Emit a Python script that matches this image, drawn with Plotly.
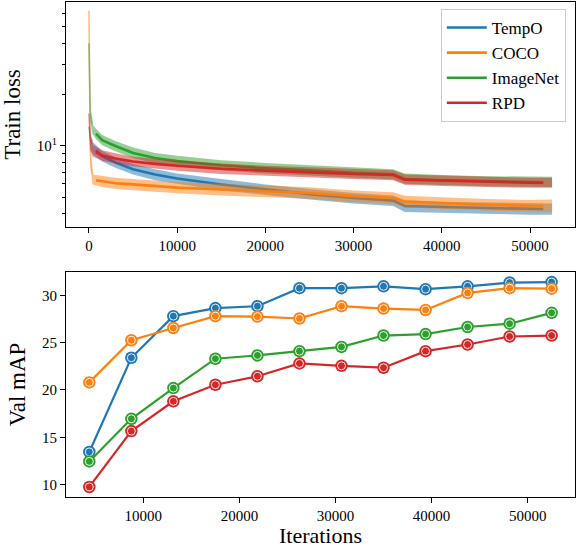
import plotly.graph_objects as go
from plotly.subplots import make_subplots


# ==========================================================
# Data
# ==========================================================

NAMES = ["TempO", "COCO", "ImageNet", "RPD"]
COLORS = ["#1f77b4", "#ff7f0e", "#2ca02c", "#d62728"]

# raw train loss, drawn as a translucent band (low / high envelope)
RAW_ITERS = [0, 150, 400, 800, 1500, 3000, 5000, 7500, 10000, 15000, 20000,
             25000, 30000, 34500, 35800, 40000, 45000, 50000, 52500]

TEMPO_LOW = [12.0, 9.6, 9.0, 8.7, 8.1, 7.45, 6.8, 6.3, 6.0, 5.5, 5.15,
             4.85, 4.6, 4.45, 4.1, 4.05, 4.0, 3.95, 3.95]
TEMPO_HIGH = [13.0, 11.4, 10.6, 10.1, 9.35, 8.6, 7.85, 7.3, 6.9, 6.4, 5.95,
              5.6, 5.3, 5.12, 4.8, 4.7, 4.65, 4.6, 4.6]

COCO_LOW = [62.0, 7.5, 5.95, 5.85, 5.75, 5.6, 5.5, 5.38, 5.28, 5.12, 5.0,
            4.9, 4.7, 4.58, 4.35, 4.27, 4.18, 4.12, 4.12]
COCO_HIGH = [62.0, 9.0, 6.8, 6.75, 6.65, 6.5, 6.4, 6.25, 6.15, 6.0, 5.85,
             5.72, 5.48, 5.35, 5.1, 4.98, 4.88, 4.82, 4.85]

IMAGENET_LOW = [40.0, 14.0, 11.8, 11.0, 10.1, 9.3, 8.5, 7.95, 7.6, 7.2, 6.9,
                6.72, 6.5, 6.38, 6.0, 5.9, 5.8, 5.75, 5.75]
IMAGENET_HIGH = [40.0, 16.0, 13.4, 12.6, 11.6, 10.7, 9.8, 9.1, 8.75, 8.25, 7.95,
                 7.72, 7.45, 7.3, 6.9, 6.75, 6.65, 6.6, 6.6]

RPD_LOW = [15.5, 9.4, 8.7, 8.5, 8.2, 7.9, 7.6, 7.35, 7.15, 6.85, 6.68,
           6.55, 6.4, 6.3, 5.92, 5.83, 5.74, 5.68, 5.68]
RPD_HIGH = [15.5, 11.0, 10.2, 9.9, 9.45, 9.05, 8.65, 8.4, 8.2, 7.9, 7.65,
            7.5, 7.32, 7.2, 6.8, 6.7, 6.58, 6.5, 6.5]

# smoothed train loss
SMOOTH_ITERS = [800, 1500, 3000, 5000, 7500, 10000, 15000, 20000, 25000,
                30000, 34500, 35800, 40000, 45000, 50000, 51500]

TEMPO_SMOOTH = [9.4, 8.7, 8.0, 7.3, 6.8, 6.45, 5.95, 5.55, 5.22,
                4.95, 4.78, 4.45, 4.38, 4.33, 4.28, 4.27]
COCO_SMOOTH = [6.3, 6.2, 6.05, 5.95, 5.8, 5.7, 5.55, 5.42, 5.3,
               5.08, 4.95, 4.72, 4.62, 4.52, 4.46, 4.45]
IMAGENET_SMOOTH = [11.8, 10.8, 10.0, 9.1, 8.5, 8.15, 7.7, 7.4, 7.2,
                   6.95, 6.82, 6.4, 6.3, 6.2, 6.15, 6.13]
RPD_SMOOTH = [9.2, 8.8, 8.45, 8.1, 7.85, 7.65, 7.35, 7.15, 7.0,
              6.85, 6.75, 6.35, 6.25, 6.15, 6.08, 6.07]

# validation mAP
VAL_ITERS = [4375, 8750, 13125, 17500, 21875, 26250, 30625, 35000,
             39375, 43750, 48125, 52500]

TEMPO_MAP = [13.45, 23.4, 27.8, 28.65, 28.85, 30.75, 30.75, 30.95,
             30.65, 30.95, 31.35, 31.4]
COCO_MAP = [20.8, 25.25, 26.55, 27.8, 27.75, 27.55, 28.85, 28.6,
            28.45, 30.25, 30.75, 30.7]
IMAGENET_MAP = [12.45, 16.95, 20.2, 23.3, 23.65, 24.1, 24.55, 25.75,
                25.9, 26.65, 27.0, 28.15]
RPD_MAP = [9.75, 15.65, 18.8, 20.55, 21.45, 22.8, 22.55, 22.35,
           24.1, 24.8, 25.65, 25.75]

RAW = [(TEMPO_LOW, TEMPO_HIGH), (COCO_LOW, COCO_HIGH),
       (IMAGENET_LOW, IMAGENET_HIGH), (RPD_LOW, RPD_HIGH)]
SMOOTH = [TEMPO_SMOOTH, COCO_SMOOTH, IMAGENET_SMOOTH, RPD_SMOOTH]
VAL = [TEMPO_MAP, COCO_MAP, IMAGENET_MAP, RPD_MAP]

FONT = "Liberation Serif"


def rgba(hex_color, alpha):
    h = hex_color.lstrip("#")
    r, g, b = int(h[0:2], 16), int(h[2:4], 16), int(h[4:6], 16)
    return f"rgba({r},{g},{b},{alpha})"


fig = make_subplots(rows=2, cols=1)

# ==========================================================
# Train loss
# ==========================================================

for name, color, (low, high), smooth in zip(NAMES, COLORS, RAW, SMOOTH):

    # noisy raw curve as a band
    fig.add_trace(
        go.Scatter(
            x=RAW_ITERS + RAW_ITERS[::-1],
            y=high + low[::-1],
            fill="toself",
            fillcolor=rgba(color, 0.5),
            line=dict(width=0),
            mode="lines",
            showlegend=False,
            hoverinfo="skip",
        ),
        row=1, col=1,
    )

    # first-iterations spike of the raw curve
    fig.add_trace(
        go.Scatter(
            x=RAW_ITERS[:3],
            y=high[:3],
            mode="lines",
            line=dict(color=rgba(color, 0.5), width=1.6),
            showlegend=False,
            hoverinfo="skip",
        ),
        row=1, col=1,
    )

    fig.add_trace(
        go.Scatter(
            x=SMOOTH_ITERS,
            y=smooth,
            mode="lines",
            name=name,
            line=dict(color=color, width=2.6),
        ),
        row=1, col=1,
    )

# ==========================================================
# Val mAP
# ==========================================================

for name, color, vals in zip(NAMES, COLORS, VAL):

    fig.add_trace(
        go.Scatter(
            x=VAL_ITERS,
            y=vals,
            mode="lines+markers",
            line=dict(color=color, width=2.2),
            marker=dict(size=12.5, color=color, line=dict(width=0)),
            showlegend=False,
        ),
        row=2, col=1,
    )

    fig.add_trace(
        go.Scatter(
            x=VAL_ITERS,
            y=vals,
            mode="markers",
            marker=dict(size=8, color=color,
                        line=dict(width=0.9, color="white")),
            showlegend=False,
        ),
        row=2, col=1,
    )

# ==========================================================
# Layout
# ==========================================================

axis_style = dict(
    showline=True,
    linecolor="black",
    linewidth=1,
    mirror=True,
    ticks="outside",
    ticklen=5,
    tickwidth=1,
    tickcolor="black",
    showgrid=False,
    zeroline=False,
    automargin=False,
    tickformat="d",
    tickfont=dict(family=FONT, size=15, color="black"),
)

fig.update_xaxes(**axis_style)
fig.update_yaxes(**axis_style)

fig.update_layout(

    width=576,
    height=548,

    paper_bgcolor="white",
    plot_bgcolor="white",

    font=dict(family=FONT, color="black"),

    margin=dict(l=66, r=1, t=2, b=51),

    xaxis=dict(
        domain=[0, 1],
        range=[-2600, 55100],
        tickvals=[0, 10000, 20000, 30000, 40000, 50000],
    ),

    yaxis=dict(
        domain=[0.5455, 1],
        type="log",
        range=[0.525, 1.844],
        tickvals=[10],
        ticktext=["10<sup>1</sup>"],
        minor=dict(
            tickvals=[4, 5, 6, 7, 8, 9, 20, 30, 40, 50, 60],
            ticks="outside",
            ticklen=3,
            tickwidth=0.8,
            tickcolor="black",
            showgrid=False,
        ),
        title=dict(text="Train loss", font=dict(family=FONT, size=23),
                   standoff=9),
    ),

    xaxis2=dict(
        domain=[0, 1],
        range=[1950, 54930],
        tickvals=[10000, 20000, 30000, 40000, 50000],
        title=dict(text="Iterations", font=dict(family=FONT, size=22),
                   standoff=10),
    ),

    yaxis2=dict(
        domain=[0, 0.4545],
        range=[8.69, 32.46],
        tickvals=[10, 15, 20, 25, 30],
        title=dict(text="Val mAP", font=dict(family=FONT, size=23),
                   standoff=9),
    ),

    legend=dict(
        x=0.982,
        y=0.986,
        xanchor="right",
        yanchor="top",
        bgcolor="rgba(255,255,255,0.8)",
        bordercolor="#cccccc",
        borderwidth=1,
        font=dict(family=FONT, size=17, color="black"),
        tracegroupgap=0,
        itemwidth=40,
    ),

)

# the page body has a default 8px margin; drop it so the figure sits at 0,0
fig.write_html(
    "out.html",
    config={"displayModeBar": False},
    post_script="document.body.style.margin='0';",
)
